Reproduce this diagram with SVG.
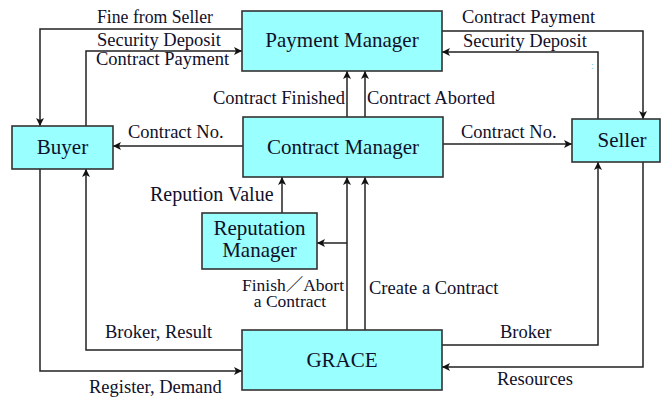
<svg xmlns="http://www.w3.org/2000/svg" width="663" height="397" viewBox="0 0 663 397">
  <style>
    .box { fill: #99ffff; stroke: #333333; stroke-width: 1.6; }
    .name { font-family: "Liberation Serif", "Noto Sans CJK SC", serif; font-size: 21px; fill: #10102a; text-anchor: middle; }
    .lbl { font-family: "Liberation Serif", "Noto Sans CJK SC", serif; font-size: 18.5px; fill: #10102a; }
    .wire { fill: none; stroke: #222222; stroke-width: 1.5; }
  </style>
  <defs>
    <marker id="arrow" markerUnits="userSpaceOnUse" markerWidth="9" markerHeight="8" refX="8" refY="4" orient="auto">
      <path d="M0,0 L8,4 L0,8 L2,4 z" fill="#111111"/>
    </marker>
  </defs>

  <rect width="663" height="397" fill="#ffffff"/>

  <!-- connectors -->
  <g id="connectors" class="wire" marker-end="url(#arrow)">
    <path d="M242,29 H40 V126"/>
    <path d="M86,126 V51 H242"/>
    <path d="M442,31 H643 V119"/>
    <path d="M598,119 V52 H442"/>
    <path d="M347,117 V71"/>
    <path d="M365,117 V71"/>
    <path d="M243,146 H113"/>
    <path d="M443,144 H572"/>
    <path d="M282,213 V177"/>
    <path d="M347,243 H317"/>
    <path d="M347,330 V177"/>
    <path d="M365,330 V177"/>
    <path d="M242,350 H86 V169"/>
    <path d="M40,169 V371 H242"/>
    <path d="M442,345 H598 V162"/>
    <path d="M643,162 V367 H442"/>
  </g>

  <!-- connector labels -->
  <g id="labels" class="lbl">
    <text x="97" y="23" textLength="116" lengthAdjust="spacingAndGlyphs">Fine from Seller</text>
    <text x="97" y="46">Security Deposit</text>
    <text x="96" y="65">Contract Payment</text>
    <text x="462" y="23">Contract Payment</text>
    <text x="463" y="47">Security Deposit</text>
    <text x="591" y="69" style="font-size:10px;fill:#66ccee">:</text>
    <text x="345" y="104" text-anchor="end">Contract Finished</text>
    <text x="367" y="104">Contract Aborted</text>
    <text x="128" y="138">Contract No.</text>
    <text x="461" y="138">Contract No.</text>
    <text x="150" y="201" style="font-size:20px">Repution Value</text>
    <text text-anchor="middle" style="font-size:17.5px"><tspan x="293" y="291">Finish／Abort</tspan><tspan x="290" y="307">a Contract</tspan></text>
    <text x="369" y="294">Create a Contract</text>
    <text x="105" y="338">Broker, Result</text>
    <text x="89" y="393">Register, Demand</text>
    <text x="500" y="338">Broker</text>
    <text x="497" y="385">Resources</text>
  </g>

  <!-- nodes -->
  <g id="payment-manager">
    <rect class="box" x="242" y="11" width="200" height="60"/>
    <text class="name" x="342" y="47">Payment Manager</text>
  </g>
  <g id="contract-manager">
    <rect class="box" x="243" y="117" width="200" height="60"/>
    <text class="name" x="343" y="154">Contract Manager</text>
  </g>
  <g id="buyer">
    <rect class="box" x="12" y="126" width="101" height="43"/>
    <text class="name" x="62.5" y="154">Buyer</text>
  </g>
  <g id="seller">
    <rect class="box" x="572" y="119" width="88" height="43"/>
    <text class="name" x="622" y="147">Seller</text>
  </g>
  <g id="reputation-manager">
    <rect class="box" x="202" y="213" width="115" height="56"/>
    <text class="name" x="259.5" y="235">Reputation</text>
    <text class="name" x="259.5" y="257">Manager</text>
  </g>
  <g id="grace">
    <rect class="box" x="242" y="330" width="200" height="60"/>
    <text class="name" x="342" y="367">GRACE</text>
  </g>
</svg>
